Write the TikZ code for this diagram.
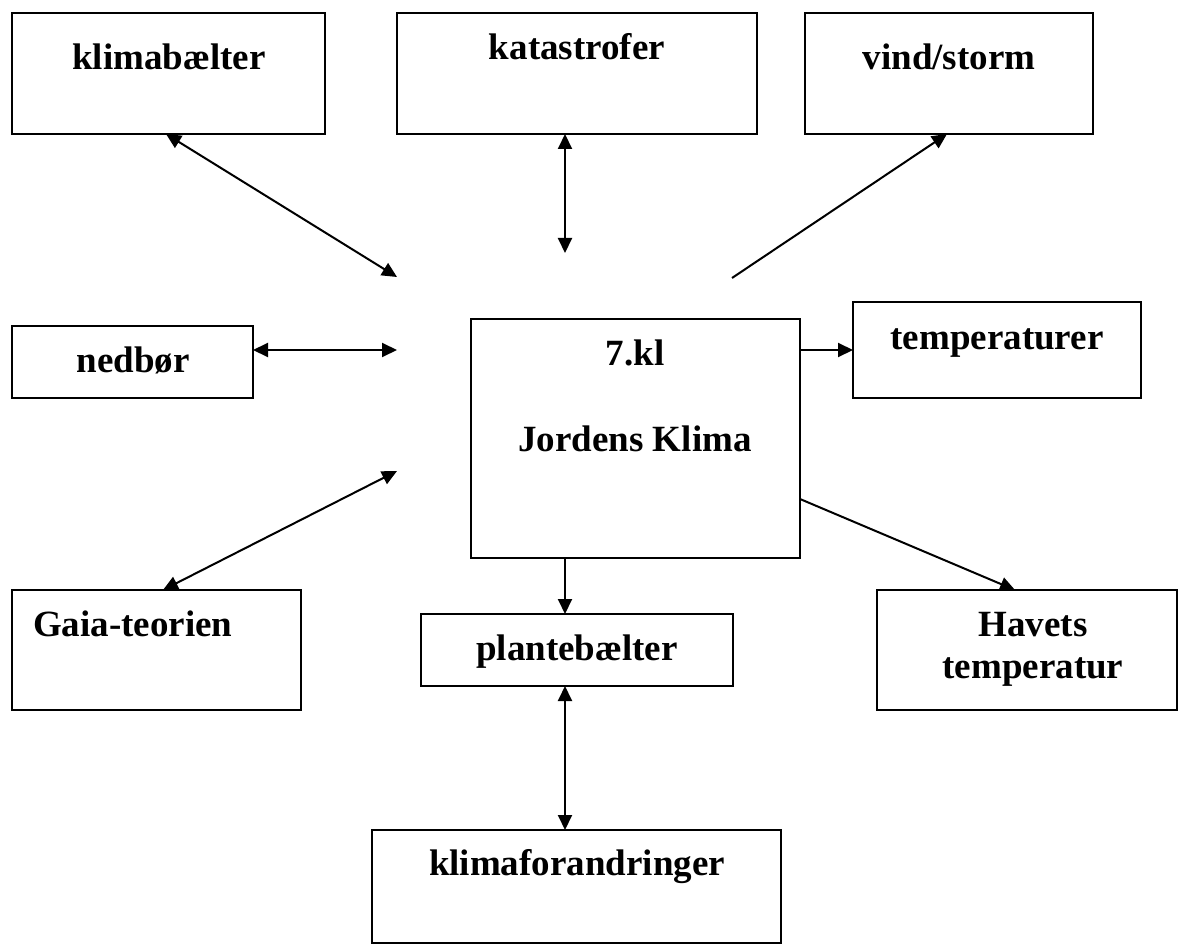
\documentclass[tikz,border=0pt]{standalone}
\usepackage{fontspec}
\setmainfont{Liberation Serif}
\usetikzlibrary{arrows.meta}
\begin{document}
\begin{tikzpicture}[x=1pt,y=-1pt,
  box/.style={draw=black, line width=2pt, rectangle, inner sep=0pt, outer sep=0pt, fill=none},
  lbl/.style={anchor=base, inner sep=0pt, font=\fontsize{37}{40}\selectfont\bfseries},
  conn/.style={line width=2pt, -{Triangle[length=15pt,width=14pt]}},
  biconn/.style={line width=2pt, {Triangle[length=15pt,width=14pt]}-{Triangle[length=15pt,width=14pt]}}
]
\useasboundingbox (0,0) rectangle (1178,944);
\fill[white] (0,0) rectangle (1178,944);

% boxes
\node[box, minimum width=313pt, minimum height=121pt] (klima) at (168.5,73.5) {};
\node[box, minimum width=360pt, minimum height=121pt] (kata) at (577,73.5) {};
\node[box, minimum width=288pt, minimum height=121pt] (vind) at (949,73.5) {};
\node[box, minimum width=241pt, minimum height=72pt] (nedbor) at (132.5,362) {};
\node[box, minimum width=329pt, minimum height=239pt] (center) at (635.5,438.5) {};
\node[box, minimum width=288pt, minimum height=96pt] (temp) at (997,350) {};
\node[box, minimum width=289pt, minimum height=120pt] (gaia) at (156.5,650) {};
\node[box, minimum width=312pt, minimum height=72pt] (plante) at (577,650) {};
\node[box, minimum width=300pt, minimum height=120pt] (havets) at (1027,650) {};
\node[box, minimum width=409pt, minimum height=113pt] (klimaf) at (576.5,886.5) {};

% texts
\node[lbl] (tklima) at (169,70) {klimabælter};
\node[lbl] (tkata) at (577,60) {katastrofer};
\node[lbl] (tvind) at (949,70) {vind/storm};
\node[lbl] (tnedbor) at (133,372) {nedbør};
\node[lbl] (tcenter1) at (635,365) {7.kl};
\node[lbl] (tcenter2) at (635,451) {Jordens Klima};
\node[lbl] (ttemp) at (997,349) {temperaturer};
\node[lbl, anchor=base west] (tgaia) at (33,636) {Gaia-teorien};
\node[lbl] (tplante) at (577,660) {plantebælter};
\node[lbl] (thav1) at (1033,636) {Havets};
\node[lbl] (thav2) at (1033,678) {temperatur};
\node[lbl] (tklimaf) at (577,875) {klimaforandringer};

% free ends near the centre
\coordinate (c1) at (397,277);
\coordinate (c2) at (565,253);
\coordinate (c3) at (732,278);
\coordinate (c4) at (397,350);
\coordinate (c5) at (397,471);

% connectors
\draw[biconn] ([xshift=-2.5pt]klima.south) -- (c1);
\draw[biconn] ([xshift=-12pt]kata.south) -- (c2);
\draw[conn] (c3) -- ([xshift=-2pt]vind.south);
\draw[biconn] ([yshift=12pt]nedbor.east) -- (c4);
\draw[biconn] (c5) -- ([xshift=6.5pt]gaia.north);
\draw[conn] ([yshift=88.5pt]center.east) -- (temp.west);
\draw[conn] ([yshift=-60.5pt]center.east) -- ([xshift=-12pt]havets.north);
\draw[conn] ([xshift=-70.5pt]center.south) -- ([xshift=-12pt]plante.north);
\draw[biconn] ([xshift=-12pt]plante.south) -- ([xshift=-11.5pt]klimaf.north);
\end{tikzpicture}
\end{document}
